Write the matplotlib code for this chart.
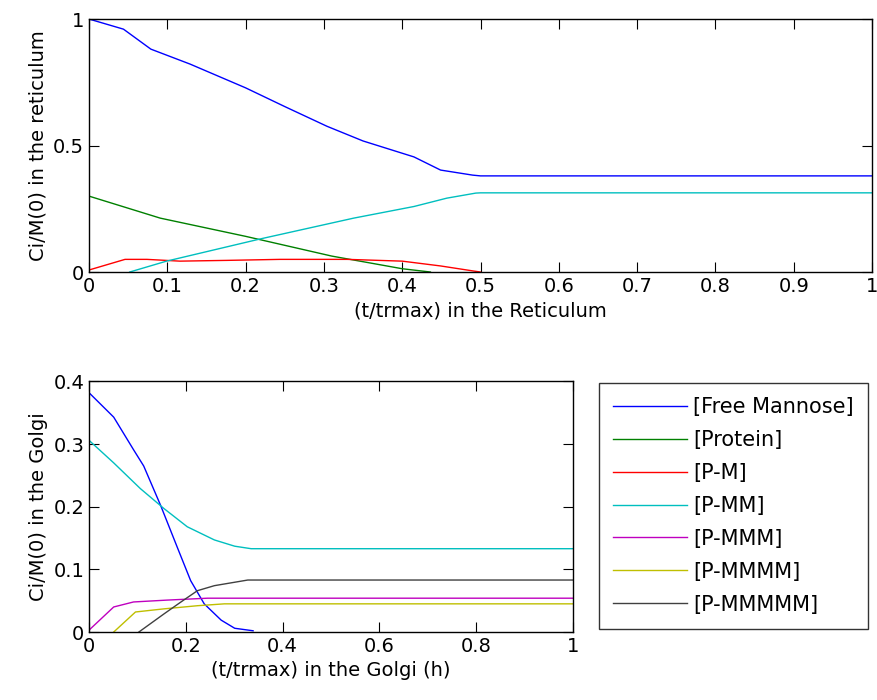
import numpy as np
import matplotlib
matplotlib.use('Agg')
import matplotlib.pyplot as plt

plt.rcParams['font.family'] = ['DejaVu Sans']
plt.rcParams['font.size'] = 14

# MATLAB-ish colour order
col = {'b': (0, 0, 1), 'g': (0, 0.5, 0), 'r': (1, 0, 0), 'c': (0, 0.75, 0.75),
       'm': (0.75, 0, 0.75), 'y': (0.75, 0.75, 0), 'k': (0.25, 0.25, 0.25)}

labels = ['[Free Mannose]', '[Protein]', '[P-M]', '[P-MM]', '[P-MMM]', '[P-MMMM]', '[P-MMMMM]']

# reticulum (top)
ret_man_t = [0, 0.044, 0.079, 0.129, 0.2, 0.25, 0.304, 0.35, 0.415, 0.449, 0.49, 0.5, 1.0]
ret_man_y = [1.0, 0.96, 0.881, 0.822, 0.728, 0.654, 0.576, 0.518, 0.455, 0.403, 0.383, 0.38, 0.38]

ret_prot_t = [0, 0.091, 0.2, 0.31, 0.4, 0.436]
ret_prot_y = [0.30, 0.213, 0.141, 0.063, 0.013, 0.0]

ret_pm_t = [0, 0.046, 0.074, 0.116, 0.176, 0.244, 0.33, 0.4, 0.449, 0.491, 0.5]
ret_pm_y = [0.008, 0.05, 0.05, 0.043, 0.046, 0.05, 0.05, 0.043, 0.024, 0.004, 0.0]

ret_pmm_t = [0.052, 0.099, 0.219, 0.338, 0.415, 0.457, 0.494, 0.5, 1.0]
ret_pmm_y = [0.0, 0.043, 0.131, 0.213, 0.259, 0.292, 0.312, 0.313, 0.313]

# golgi (bottom)
gol_man_t = [0, 0.051, 0.092, 0.113, 0.148, 0.183, 0.21, 0.238, 0.273, 0.301, 0.339]
gol_man_y = [0.382, 0.343, 0.291, 0.265, 0.202, 0.134, 0.082, 0.045, 0.019, 0.006, 0.002]

gol_pmm_t = [0, 0.051, 0.106, 0.155, 0.203, 0.259, 0.301, 0.335, 1.0]
gol_pmm_y = [0.306, 0.27, 0.229, 0.197, 0.168, 0.147, 0.137, 0.133, 0.133]

gol_pmmm_t = [0, 0.051, 0.092, 0.162, 0.245, 1.0]
gol_pmmm_y = [0.003, 0.04, 0.048, 0.051, 0.054, 0.054]

gol_pmmmm_t = [0.051, 0.096, 0.155, 0.224, 0.28, 1.0]
gol_pmmmm_y = [0.0, 0.032, 0.037, 0.042, 0.045, 0.045]

gol_pmmmmm_t = [0.103, 0.155, 0.19, 0.224, 0.259, 0.328, 1.0]
gol_pmmmmm_y = [0.0, 0.029, 0.048, 0.066, 0.074, 0.083, 0.083]

fig = plt.figure(figsize=(8.77, 7.0), dpi=100)
ax1 = fig.add_axes([0.1015, 0.6114, 0.8928, 0.3614])
ax2 = fig.add_axes([0.1015, 0.0971, 0.5519, 0.358])

lw = 1.0
ax1.plot(ret_man_t, ret_man_y, color=col['b'], lw=lw)
ax1.plot(ret_prot_t, ret_prot_y, color=col['g'], lw=lw)
ax1.plot(ret_pm_t, ret_pm_y, color=col['r'], lw=lw)
ax1.plot(ret_pmm_t, ret_pmm_y, color=col['c'], lw=lw)
ax1.set_xlim(0, 1)
ax1.set_ylim(0, 1)
ax1.set_xticks(np.arange(0, 1.01, 0.1))
ax1.set_xticklabels(['0', '0.1', '0.2', '0.3', '0.4', '0.5', '0.6', '0.7', '0.8', '0.9', '1'])
ax1.set_yticks([0, 0.5, 1])
ax1.set_yticklabels(['0', '0.5', '1'])
ax1.set_xlabel('(t/trmax) in the Reticulum')
ax1.set_ylabel('Ci/M(0) in the reticulum')

h = []
h += ax2.plot(gol_man_t, gol_man_y, color=col['b'], lw=lw)
h += ax2.plot([], [], color=col['g'], lw=lw)
h += ax2.plot([], [], color=col['r'], lw=lw)
h += ax2.plot(gol_pmm_t, gol_pmm_y, color=col['c'], lw=lw)
h += ax2.plot(gol_pmmm_t, gol_pmmm_y, color=col['m'], lw=lw)
h += ax2.plot(gol_pmmmm_t, gol_pmmmm_y, color=col['y'], lw=lw)
h += ax2.plot(gol_pmmmmm_t, gol_pmmmmm_y, color=col['k'], lw=lw)
ax2.set_xlim(0, 1)
ax2.set_ylim(0, 0.4)
ax2.set_xticks([0, 0.2, 0.4, 0.6, 0.8, 1])
ax2.set_xticklabels(['0', '0.2', '0.4', '0.6', '0.8', '1'])
ax2.set_yticks([0, 0.1, 0.2, 0.3, 0.4])
ax2.set_yticklabels(['0', '0.1', '0.2', '0.3', '0.4'])
ax2.set_xlabel('(t/trmax) in the Golgi (h)')
ax2.set_ylabel('Ci/M(0) in the Golgi')

for ax in (ax1, ax2):
    ax.tick_params(direction='in', length=7, top=True, right=True, width=0.8)
    for s in ax.spines.values():
        s.set_linewidth(1.0)

leg = fig.legend(h, labels, loc='upper left', bbox_to_anchor=(0.683, 0.453),
                 frameon=True, fancybox=False, handlelength=3.55, handletextpad=0.3,
                 labelspacing=0.62, borderpad=0.68, borderaxespad=0, fontsize=15)
leg.get_frame().set_edgecolor('black')
leg.get_frame().set_linewidth(1.0)

fig.savefig('out.png', dpi=100)
